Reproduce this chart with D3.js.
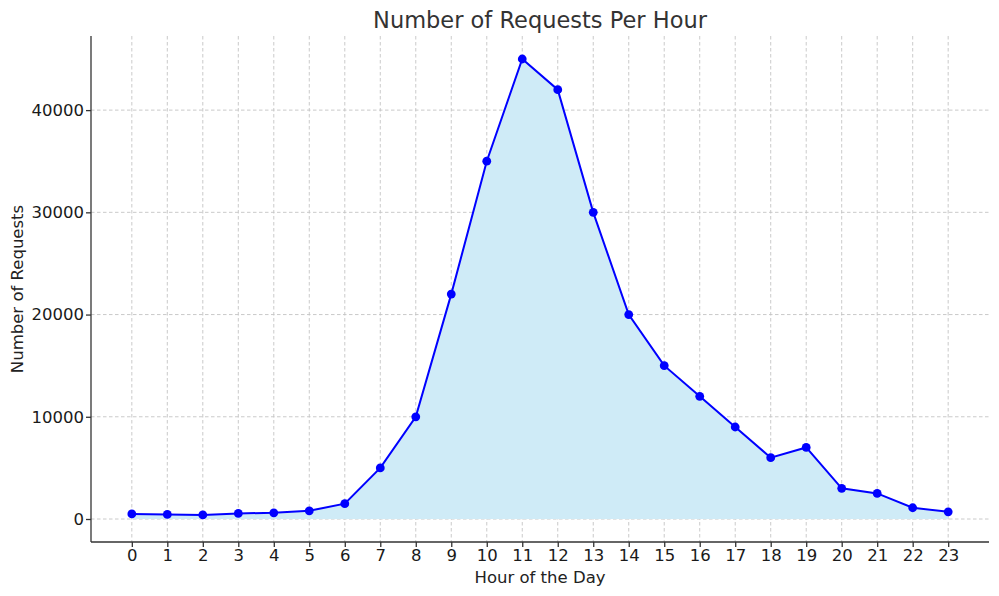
<!DOCTYPE html>
<html>
<head>
<meta charset="utf-8">
<script src="https://cdn.jsdelivr.net/npm/d3@7"></script>
<style>
  body { margin: 0; background: #fff; }
  svg { display: block; }
  .grid line { stroke: #c4c4c4; stroke-dasharray: 3.5,2.5; stroke-width: 0.9; }
  .axis path, .axis line { stroke: #333; stroke-width: 1.3; }
</style>
</head>
<body>
<div id="chart"></div>
<script>
// data
const hours = d3.range(0, 24);
const requests = [500, 450, 400, 550, 600, 800, 1500, 5000, 10000, 22000, 35000, 45000,
                  42000, 30000, 20000, 15000, 12000, 9000, 6000, 7000, 3000, 2500, 1100, 700];
const yTicks = [0, 10000, 20000, 30000, 40000];

const data = hours.map((h, i) => ({ hour: h, value: requests[i] }));

const FONT = "'DejaVu Sans', sans-serif";
const W = 999, H = 596, m = { t: 36, r: 10, b: 54, l: 91 };
const iw = W - m.l - m.r, ih = H - m.t - m.b;

const svg = d3.select("#chart").append("svg")
  .attr("width", W).attr("height", H)
  .style("font-family", FONT);

const g = svg.append("g").attr("transform", `translate(${m.l},${m.t})`);

// matplotlib-ish 5% margins
const x = d3.scaleLinear().domain([-1.15, 24.15]).range([0, iw]);
const y = d3.scaleLinear().domain([-2250, 47250]).range([ih, 0]);

// grid
g.append("g").attr("class", "grid")
  .selectAll("line").data(hours).join("line")
  .attr("x1", d => x(d)).attr("x2", d => x(d))
  .attr("y1", 0).attr("y2", ih);
g.append("g").attr("class", "grid")
  .selectAll("line").data(yTicks).join("line")
  .attr("x1", 0).attr("x2", iw)
  .attr("y1", d => y(d)).attr("y2", d => y(d));

// filled area
const area = d3.area()
  .x(d => x(d.hour))
  .y0(y(0))
  .y1(d => y(d.value));
g.append("path").datum(data)
  .attr("d", area)
  .attr("fill", "rgb(207,235,247)");

// line + markers
const lineGen = d3.line()
  .x(d => x(d.hour))
  .y(d => y(d.value));
g.append("path").datum(data)
  .attr("d", lineGen)
  .attr("fill", "none")
  .attr("stroke", "#0000ff")
  .attr("stroke-width", 2);

g.append("g").selectAll("circle").data(data).join("circle")
  .attr("cx", d => x(d.hour))
  .attr("cy", d => y(d.value))
  .attr("r", 4.4)
  .attr("fill", "#0000ff");

// axes
const xAxis = g.append("g").attr("class", "axis")
  .attr("transform", `translate(0,${ih})`)
  .call(d3.axisBottom(x).tickValues(hours).tickFormat(d3.format("d")).tickSize(5).tickPadding(2).tickSizeOuter(0));
xAxis.select(".domain").attr("d", `M0,0H${iw}`);

const yAxis = g.append("g").attr("class", "axis")
  .call(d3.axisLeft(y).tickValues(yTicks).tickFormat(d3.format("d")).tickSize(5).tickPadding(2).tickSizeOuter(0));
yAxis.select(".domain").attr("d", `M0,0V${ih}`);

svg.selectAll(".axis").attr("font-family", FONT).attr("font-size", 16.5);
svg.selectAll(".axis text").attr("fill", "#1a1a1a");

// labels
svg.append("text")
  .attr("x", m.l + iw / 2).attr("y", 28)
  .attr("text-anchor", "middle")
  .attr("font-size", 22.5).attr("fill", "#333")
  .text("Number of Requests Per Hour");
svg.append("text")
  .attr("x", m.l + iw / 2).attr("y", 583)
  .attr("text-anchor", "middle")
  .attr("font-size", 16.5).attr("fill", "#222")
  .text("Hour of the Day");
svg.append("text")
  .attr("transform", `translate(23, ${m.t + ih / 2}) rotate(-90)`)
  .attr("text-anchor", "middle")
  .attr("font-size", 16.5).attr("fill", "#222")
  .text("Number of Requests");
</script>
</body>
</html>
